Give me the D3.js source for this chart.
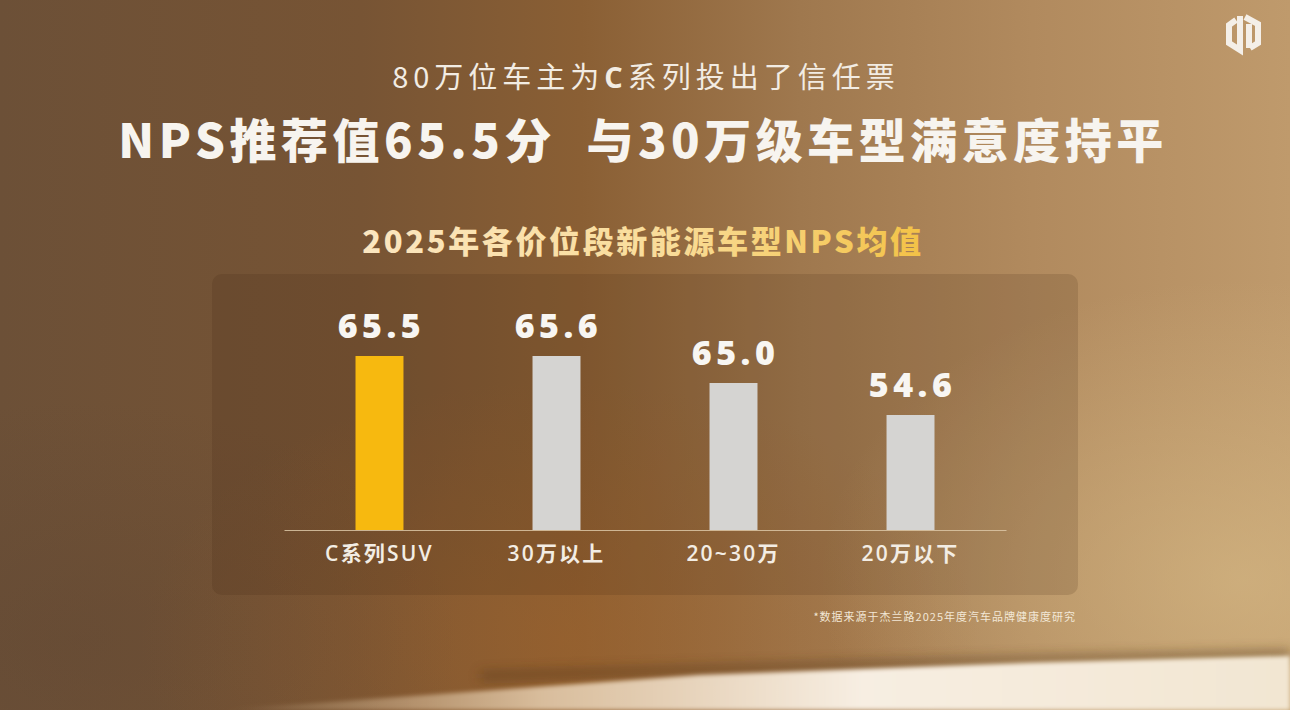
<!DOCTYPE html>
<html>
<head>
<meta charset="utf-8">
<script src="https://cdn.jsdelivr.net/npm/d3@7"></script>
<style>
  html, body { margin: 0; padding: 0; background: #7a5634; }
  svg { display: block; }
</style>
</head>
<body>
<svg id="chart"></svg>
<script>
// chart data
const categories = ["C系列SUV", "30万以上", "20~30万", "20万以下"];
const npsValues = [65.5, 65.6, 65.0, 54.6];
const highlight = "C系列SUV";

const headline = "NPS推荐值65.5分  与30万级车型满意度持平";
const chartTitle = "2025年各价位段新能源车型NPS均值";
const footnote = "*数据来源于杰兰路2025年度汽车品牌健康度研究";

const width = 1290;
const height = 710;
const latin = "'Open Sans', 'Noto Sans CJK SC', sans-serif";
const cjk = "'Noto Sans CJK SC', 'Noto Sans', sans-serif";

const svg = d3.select("#chart").attr("width", width).attr("height", height);
const defs = svg.append("defs");

// background gradients
const bg = defs.append("linearGradient").attr("id", "bg").attr("x1", 0).attr("x2", 1).attr("y1", 0).attr("y2", 0);
[[0, "#6c5037"], [0.28, "#775434"], [0.45, "#8a5f34"], [0.62, "#9f784e"], [0.8, "#b18a5e"], [1, "#bf9a6c"]]
  .forEach(s => bg.append("stop").attr("offset", s[0]).attr("stop-color", s[1]));

function radial(id, color, op) {
  const g = defs.append("radialGradient").attr("id", id);
  g.append("stop").attr("offset", 0).attr("stop-color", color).attr("stop-opacity", op);
  g.append("stop").attr("offset", 1).attr("stop-color", color).attr("stop-opacity", 0);
}
radial("glowOrange", "#a0622a", 0.5);
radial("glowLight", "#d8bc88", 0.6);
radial("darkLeft", "#5c4432", 0.35);

const band = defs.append("linearGradient").attr("id", "band").attr("x1", 0).attr("x2", 1).attr("y1", 0).attr("y2", 0);
[[0, "#e8cfa8", 0], [0.3, "#f0dcc0", 0.75], [0.6, "#f7eee2", 1], [1, "#f2e6d2", 1]]
  .forEach(s => band.append("stop").attr("offset", s[0]).attr("stop-color", s[1]).attr("stop-opacity", s[2]));

const titleGrad = defs.append("linearGradient").attr("id", "titleGrad").attr("x1", 0).attr("x2", 1).attr("y1", 0).attr("y2", 0);
[[0, "#fbe6c0"], [0.55, "#f9dc98"], [1, "#f3c246"]]
  .forEach(s => titleGrad.append("stop").attr("offset", s[0]).attr("stop-color", s[1]));

defs.append("filter").attr("id", "blur").attr("x", "-20%").attr("y", "-200%").attr("width", "140%").attr("height", "500%")
  .append("feGaussianBlur").attr("stdDeviation", 6);
defs.append("filter").attr("id", "blurS")
  .append("feGaussianBlur").attr("stdDeviation", 2);

svg.append("rect").attr("width", width).attr("height", height).attr("fill", "url(#bg)");
svg.append("ellipse").attr("cx", 560).attr("cy", 640).attr("rx", 420).attr("ry", 260).attr("fill", "url(#glowOrange)");
svg.append("ellipse").attr("cx", 1240).attr("cy", 580).attr("rx", 420).attr("ry", 300).attr("fill", "url(#glowLight)");
svg.append("ellipse").attr("cx", 80).attr("cy", 640).attr("rx", 380).attr("ry", 240).attr("fill", "url(#darkLeft)");

// bottom shelf highlight and shadow
svg.append("path")
  .attr("d", "M480,672 L1030,656 L1290,650 L1290,660 L1030,664 L480,680 Z")
  .attr("fill", "#4e3218").attr("opacity", 0.5).attr("filter", "url(#blur)");
svg.append("path")
  .attr("d", "M220,710 L700,675 L1030,663 L1290,656 L1290,710 Z")
  .attr("fill", "url(#band)").attr("filter", "url(#blurS)");

// logo
const logo = svg.append("g").attr("fill", "none").attr("stroke", "#f4efe8")
  .attr("stroke-width", 6).attr("stroke-linejoin", "miter");
logo.append("path").attr("d", "M1236,20 L1229,25 L1229,43 L1240,50 L1240,16");
logo.append("path").attr("d", "M1245,17 L1258,24 L1258,43 L1250,48 M1249,24 L1249,48");

// headings
svg.append("text")
  .attr("x", 646).attr("y", 88).attr("text-anchor", "middle")
  .attr("fill", "#f2ece3").style("font-family", cjk).style("font-size", "29px")
  .style("letter-spacing", "5px")
  .call(t => {
    t.append("tspan").text("80万位车主为");
    t.append("tspan").style("font-weight", 700).style("font-family", latin).text("C");
    t.append("tspan").text("系列投出了信任票");
  });

svg.append("text")
  .attr("x", 643).attr("y", 158).attr("text-anchor", "middle")
  .attr("fill", "#f7f4ef").style("font-family", cjk).style("font-weight", 900)
  .style("font-size", "47px").style("letter-spacing", "4.5px")
  .attr("xml:space", "preserve")
  .text(headline);

svg.append("text")
  .attr("x", 643).attr("y", 253).attr("text-anchor", "middle")
  .attr("fill", "url(#titleGrad)").style("font-family", cjk).style("font-weight", 900)
  .style("font-size", "31px").style("letter-spacing", "2.6px")
  .text(chartTitle);

// chart panel
svg.append("rect")
  .attr("x", 212).attr("y", 274).attr("width", 866).attr("height", 321).attr("rx", 10)
  .attr("fill", "#3c2410").attr("fill-opacity", 0.15);

// scales
const x = d3.scaleBand()
  .domain(categories)
  .range([284, 1006])
  .paddingInner(0.729)
  .paddingOuter(0.404);

// the slide stretches the value axis unevenly, so a piecewise linear scale is used
const y = d3.scaleLinear()
  .domain([0, 54.6, 65.0, 65.5])
  .range([530, 415, 383, 356])
  .clamp(true);

const data = categories.map((c, i) => ({ category: c, value: npsValues[i] }));

// bars
svg.append("g")
  .selectAll("rect")
  .data(data)
  .join("rect")
  .attr("x", d => x(d.category))
  .attr("y", d => y(d.value))
  .attr("width", x.bandwidth())
  .attr("height", d => y(0) - y(d.value))
  .attr("fill", d => d.category === highlight ? "#f7b90f" : "#d5d4d2");

// value labels
svg.append("g")
  .selectAll("text")
  .data(data)
  .join("text")
  .attr("x", d => x(d.category) + x.bandwidth() / 2 + 2)
  .attr("y", d => y(d.value) - 18)
  .attr("text-anchor", "middle")
  .attr("fill", "#f8f6f2")
  .style("font-family", latin)
  .style("font-weight", 800)
  .style("font-size", "34px")
  .style("letter-spacing", "4.5px")
  .text(d => d.value.toFixed(1));

// x axis
const axis = svg.append("g")
  .attr("transform", "translate(0,530)")
  .call(d3.axisBottom(x).tickSize(0).tickSizeOuter(0).tickPadding(16));
axis.select(".domain").attr("stroke", "#dcc7a6").attr("stroke-width", 1.2).attr("opacity", 0.85);
axis.selectAll("text")
  .attr("fill", "#f3ede4")
  .style("font-family", latin)
  .style("font-size", "21px")
  .style("font-weight", 600)
  .style("letter-spacing", "2.2px");

// footnote
svg.append("text")
  .attr("x", 1076).attr("y", 621).attr("text-anchor", "end")
  .attr("fill", "#f2e7d6").style("font-family", cjk).style("font-size", "11px")
  .style("letter-spacing", "1px")
  .text(footnote);
</script>
</body>
</html>
